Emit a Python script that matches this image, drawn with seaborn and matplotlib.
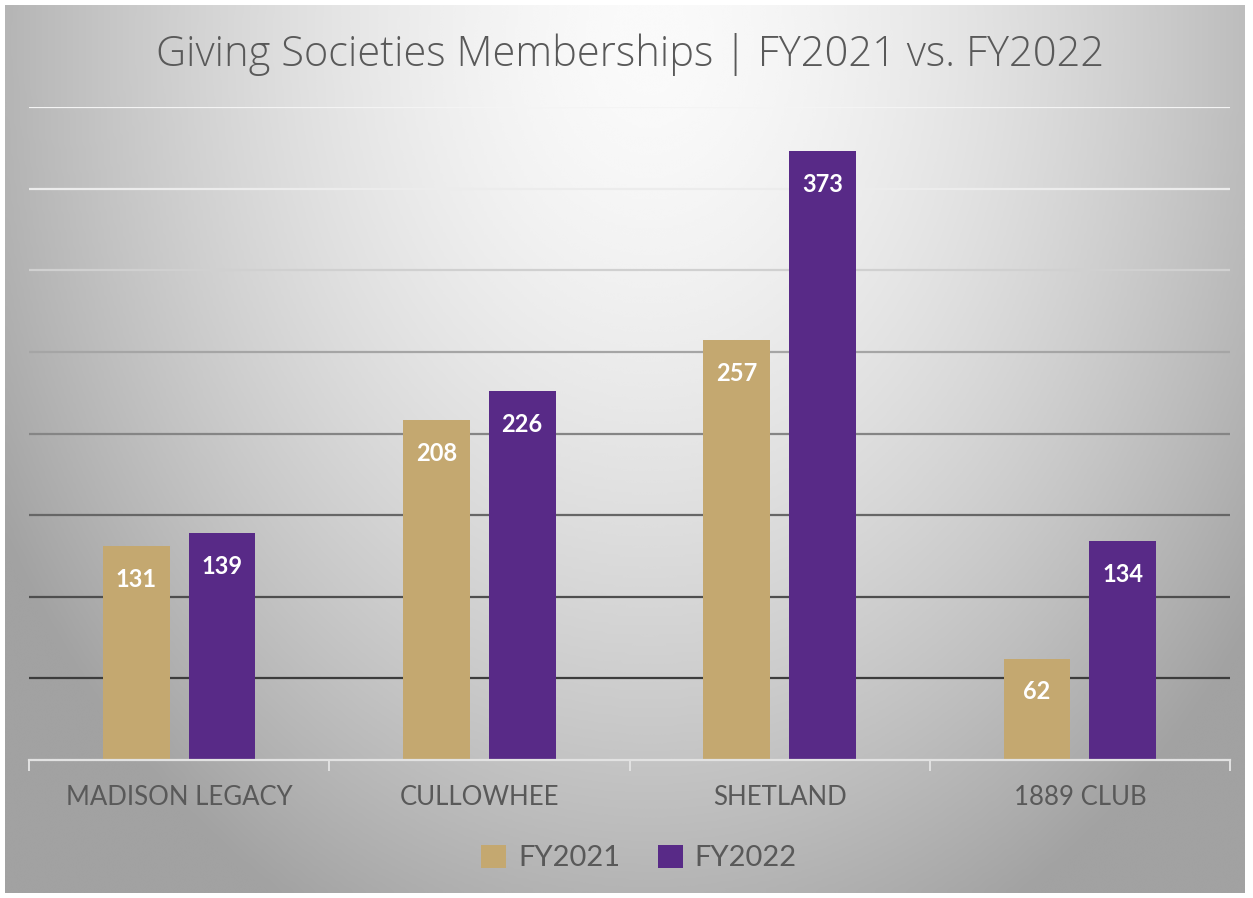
import seaborn as sns
import pandas as pd
import numpy as np
import matplotlib.pyplot as plt
from matplotlib.ticker import FixedLocator

# Chart data
societies = ['MADISON LEGACY', 'CULLOWHEE', 'SHETLAND', '1889 CLUB']
fy2021 = [131, 208, 257, 62]
fy2022 = [139, 226, 373, 134]
years = ['FY2021', 'FY2022']
grid_values = [50, 100, 150, 200, 250, 300, 350, 400]

gold = '#C4A870'
purple = '#582A87'
text_grey = '#595959'

df = pd.DataFrame({
    'society': societies * 2,
    'members': fy2021 + fy2022,
    'year': [years[0]] * len(societies) + [years[1]] * len(societies),
})

sns.set_theme(style='white')
plt.rcParams['font.family'] = ['Lato', 'DejaVu Sans']

W, H = 1253, 898
fig = plt.figure(figsize=(W / 100, H / 100), dpi=100)
fig.patch.set_facecolor('white')

# radial grey background of the chart box
bg = fig.add_axes([5 / W, 5 / H, 1240 / W, 888 / H], zorder=0)
xx, yy = np.meshgrid(np.linspace(5, 1245, 400), np.linspace(5, 893, 300))
r = np.sqrt(((xx - 650) / 760) ** 2 + ((yy - 40) / 1000) ** 2)
shade = np.clip(250 - 90 * r ** 1.6, 162, 250) / 255
bg.imshow(shade, cmap='gray', vmin=0, vmax=1, aspect='auto',
          extent=[0, 1, 0, 1], origin='upper', interpolation='bicubic')
bg.set_axis_off()

ax = fig.add_axes([29 / W, (H - 760) / H, 1201 / W, 653 / H], zorder=1)
ax.set_facecolor('none')

# gridlines fade from dark at the bottom to light at the top
grid_colors = ['#3c3c3c', '#4e4e4e', '#666666', '#858585', '#a5a5a5',
               '#d0d0d0', '#ececec', '#f4f4f4']
for v, c in zip(grid_values, grid_colors):
    ax.axhline(v, color=c, lw=1.6, zorder=0.5)

sns.barplot(data=df, x='society', y='members', hue='year',
            palette=[gold, purple], width=0.57, gap=0.22,
            saturation=1, linewidth=0, ax=ax, zorder=2)

for cont, vals in zip(ax.containers, [fy2021, fy2022]):
    for bar, v in zip(cont, vals):
        ax.annotate(str(v), (bar.get_x() + bar.get_width() / 2, v),
                    xytext=(0, -33), textcoords='offset pixels',
                    ha='center', va='center', color='white',
                    fontsize=17, fontweight='bold', zorder=3)

ax.set_ylim(0, 400)
ax.set_xlim(-0.5, len(societies) - 0.5)
ax.set_yticks([])
ax.set_xlabel('')
ax.set_ylabel('')
for s in ['left', 'right', 'top']:
    ax.spines[s].set_visible(False)
ax.spines['bottom'].set_color('#e2e2e2')
ax.spines['bottom'].set_linewidth(1.6)
ax.tick_params(axis='x', which='major', length=0, pad=18,
               labelsize=18.5, labelcolor=text_grey)
ax.xaxis.set_minor_locator(FixedLocator(np.arange(-0.5, len(societies), 1.0)))
ax.tick_params(axis='x', which='minor', length=8, width=1.4,
               color='#e2e2e2', direction='out', bottom=True)

leg = ax.legend(loc='center', bbox_to_anchor=(0.51, 1 - 858 / H),
                bbox_transform=fig.transFigure, ncol=2, frameon=False,
                fontsize=21, labelcolor=text_grey, handlelength=0.85,
                handleheight=0.85, handletextpad=0.4, columnspacing=1.3)

fig.text(0.503, 1 - 55 / H, 'Giving Societies Memberships | FY2021 vs. FY2022',
         ha='center', va='center', fontsize=30, color=text_grey,
         family=['Open Sans', 'DejaVu Sans'], fontweight='light')

fig.savefig('out.png', dpi=100)
